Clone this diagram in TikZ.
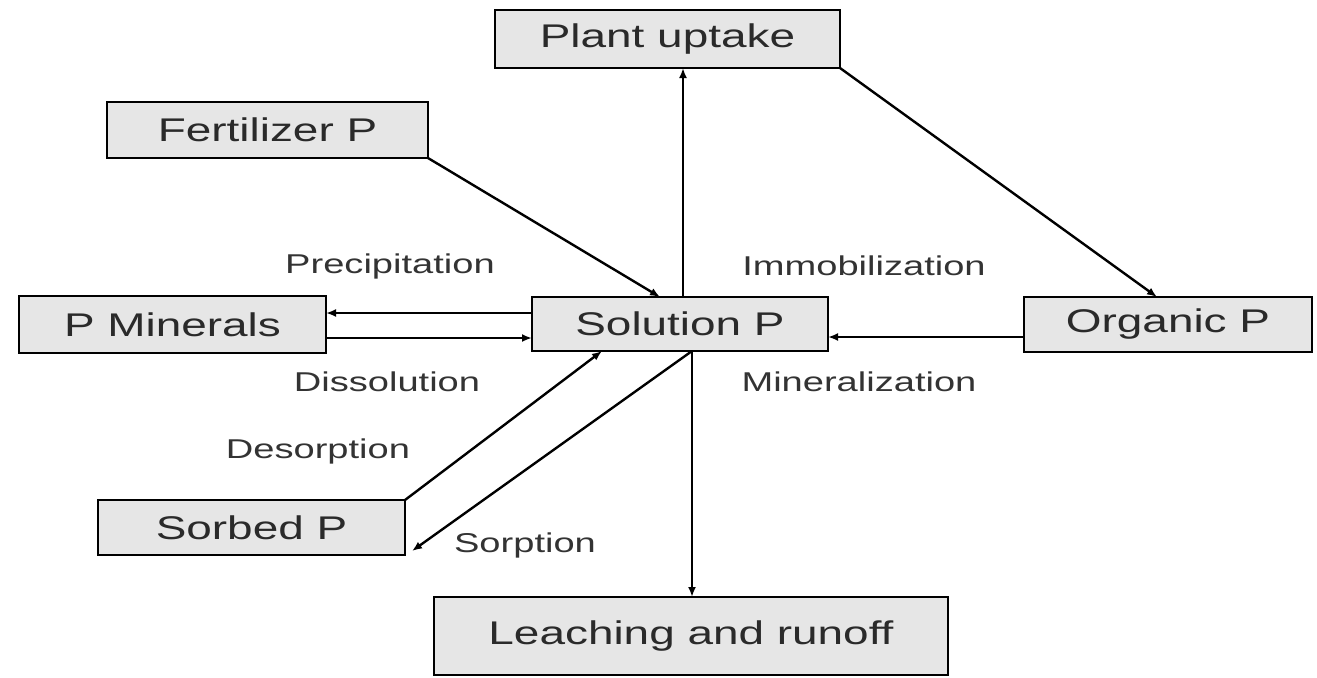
\documentclass[tikz,border=0pt]{standalone}
\usepackage{fontspec}
\setmainfont{Liberation Sans}
\newfontfamily\boxfont[FakeStretch=1.4]{Liberation Sans}
\usetikzlibrary{arrows.meta,calc}
\definecolor{boxgray}{HTML}{E6E6E6}
\definecolor{txtgray}{HTML}{2A2A2A}
\definecolor{lblgray}{HTML}{333333}
\tikzset{
  pbox/.style={draw=black, line width=1.4pt, fill=boxgray, inner sep=0pt, outer sep=0pt,
    text=txtgray, font=\boxfont\fontsize{16.4}{18}\selectfont},
  lbl/.style={anchor=base, inner sep=0pt, text=lblgray, font=\boxfont\fontsize{13.6}{15}\selectfont},
  arr/.style={line width=1.2pt, -{Latex[length=5pt,width=4pt]}},
  ln/.style={line width=1.2pt}
}
\begin{document}
\begin{tikzpicture}[x=0.5pt,y=-0.5pt]
\useasboundingbox (0,0) rectangle (1317,677);
% boxes
\node[pbox, minimum width=172.5pt, minimum height=29pt] (pu) at (667.5,39) {Plant uptake};
\node[pbox, minimum width=160.5pt, minimum height=28pt] (fp) at (267.5,130) {Fertilizer P};
\node[pbox, minimum width=153.5pt, minimum height=28.5pt] (pm) at (172.5,324.5) {P Minerals};
\node[pbox, minimum width=148pt, minimum height=27pt] (sol) at (680,324) {Solution P};
\node[pbox, minimum width=144pt, minimum height=27.5pt] (op) at (1168,324.5) {Organic P};
\node[pbox, minimum width=153.5pt, minimum height=27.5pt] (sp) at (251.5,527.5) {Sorbed P};
\node[pbox, minimum width=257pt, minimum height=39pt] (lr) at (691,636) {Leaching and runoff};
% helper coordinates
\coordinate (solUp) at ($(sol.north)+(3,0)$);
\coordinate (solFe) at ($(sol.north)+(-20,0)$);
\coordinate (pmA) at ($(sol.west)+(0,-11)$);
\coordinate (pmB) at ($(sol.west)+(0,14)$);
\coordinate (opA) at ($(sol.east)+(0,13)$);
\coordinate (solDe) at ($(sol.south)+(-78,0)$);
\coordinate (solSo) at ($(sol.south)+(12,0)$);
\coordinate (opTop) at ($(op.north)+(-11,0)$);
\coordinate (spTip) at ($(sp.south east)+(7,-4)$);
% connectors
\draw[arr] (solUp) -- (solUp |- pu.south);
\draw[arr] (fp.south east) -- (solFe);
\draw[arr] (pu.south east) -- (opTop);
\draw[arr] (pmA) -- (pmA -| pm.east);
\draw[arr] (pmB -| pm.east) -- (pmB);
\draw[arr] (opA -| op.west) -- (opA);
\draw[arr] (sp.north east) -- (solDe);
\draw[arr] (solSo) -- (spTip);
\draw[arr] (solSo) -- (solSo |- lr.north);
% labels
\node[lbl] (l1) at (390,273) {Precipitation};
\node[lbl] (l2) at (864,275) {Immobilization};
\node[lbl] (l3) at (387,391) {Dissolution};
\node[lbl] (l4) at (859,391) {Mineralization};
\node[lbl] (l5) at (318,458) {Desorption};
\node[lbl] (l6) at (525,552) {Sorption};
\end{tikzpicture}
\end{document}
